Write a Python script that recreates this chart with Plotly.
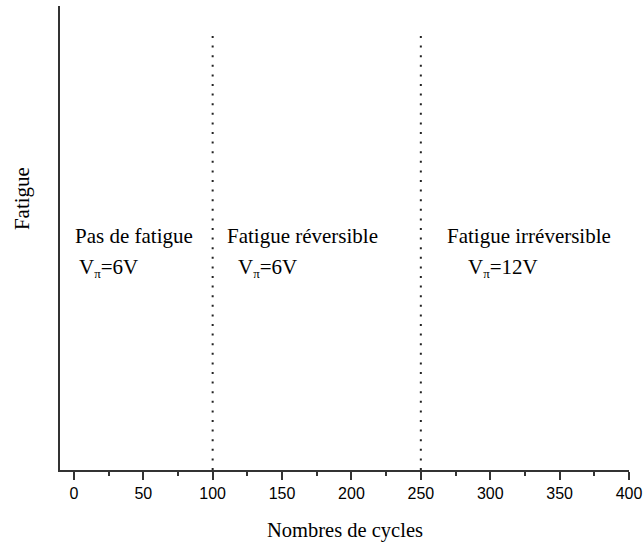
import plotly.graph_objects as go

# region boundaries (number of cycles) and labels
boundaries = [100, 250]
region_names = ["Pas de fatigue", "Fatigue réversible", "Fatigue irréversible"]
v_pi = ["6V", "6V", "12V"]
x_ticks = [0, 50, 100, 150, 200, 250, 300, 350, 400]

fig = go.Figure()

for b in boundaries:
    fig.add_trace(go.Scatter(
        x=[b, b], y=[0, 0.946],
        mode="lines",
        line=dict(color="#222222", width=2, dash="2px,7.6px"),
        showlegend=False, hoverinfo="skip",
    ))

serif = "Liberation Serif"
# label placement: x of title line, x of V line
title_x = [-0.5, 108.8, 267.4]
v_x = [2.2, 116.8, 282.5]
for name, v, tx, vx in zip(region_names, v_pi, title_x, v_x):
    fig.add_annotation(x=tx, y=0.504, xref="x", yref="paper", text=name,
                       showarrow=False, xanchor="left", yanchor="middle",
                       font=dict(family=serif, size=21, color="black"))
    fig.add_annotation(x=vx, y=0.436, xref="x", yref="paper",
                       text="V<sub><span style='font-size:13px'>π</span></sub>=" + v,
                       showarrow=False, xanchor="left", yanchor="middle",
                       font=dict(family=serif, size=21, color="black"))

fig.add_annotation(x=-0.0668, y=0.586, xref="paper", yref="paper", text="Fatigue",
                   textangle=-90, showarrow=False, xanchor="center", yanchor="middle",
                   font=dict(family=serif, size=21, color="black"))

fig.add_annotation(x=0.5, y=-0.131, xref="paper", yref="paper",
                   text="Nombres de cycles", showarrow=False,
                   xanchor="center", yanchor="middle",
                   font=dict(family=serif, size=20.5, color="black"))

fig.update_layout(
    width=643, height=544,
    margin=dict(l=60, r=14, t=6, b=74),
    plot_bgcolor="white", paper_bgcolor="white",
    xaxis=dict(
        range=[-10, 400], tickvals=x_ticks, automargin=False,
        showgrid=False, zeroline=False,
        showline=True, linewidth=2, linecolor="#333333",
        ticks="outside", ticklen=8, tickwidth=1.5, tickcolor="#333333",
        tickfont=dict(family="Liberation Sans", size=16, color="black"),
        minor=dict(dtick=25, tick0=0, ticks="outside", ticklen=4, tickwidth=1.5,
                   tickcolor="#333333", showgrid=False),
    ),
    yaxis=dict(
        range=[0, 1], showticklabels=False, ticks="", automargin=False,
        showgrid=False, zeroline=False,
        showline=True, linewidth=2, linecolor="#333333",
    ),
)

# drop the default page margin so the figure fills the window
fig.write_html("out.html", config={"displayModeBar": False, "responsive": False},
               post_script="document.body.style.margin='0';")
